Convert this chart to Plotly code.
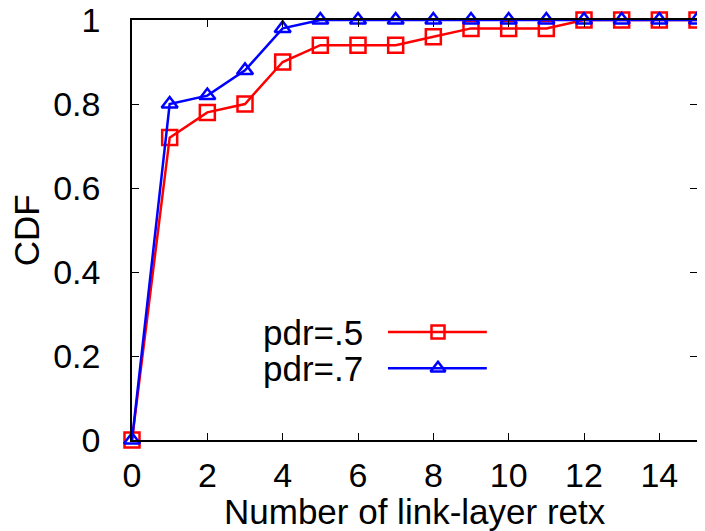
import plotly.graph_objects as go

retx = list(range(0, 16))
cdf_pdr5 = [0, 0.72, 0.78, 0.80, 0.90, 0.94, 0.94, 0.94, 0.96, 0.98, 0.98, 0.98, 1, 1, 1, 1]
cdf_pdr7 = [0, 0.80, 0.82, 0.88, 0.98, 1, 1, 1, 1, 1, 1, 1, 1, 1, 1, 1]
series_names = ["pdr=.5", "pdr=.7"]
x_ticks = [0, 2, 4, 6, 8, 10, 12, 14]
y_ticks = [0, 0.2, 0.4, 0.6, 0.8, 1]
y_tick_labels = ["0", "0.2", "0.4", "0.6", "0.8", "1"]
x_title = "Number of link-layer retx"
y_title = "CDF"

FONT = "Liberation Sans, Arial, Helvetica, sans-serif"
FS = 34
FS_T = 35
RED = "#ff0000"
BLUE = "#0000ff"

fig = go.Figure()
fig.add_trace(go.Scatter(x=retx, y=cdf_pdr5, mode="lines+markers", name=series_names[0],
                         line=dict(color=RED, width=2.5),
                         marker=dict(symbol="square-open", size=15, color=RED, line=dict(width=2.5, color=RED)),
                         showlegend=False, cliponaxis=False))
fig.add_trace(go.Scatter(x=retx, y=cdf_pdr7, mode="lines+markers", name=series_names[1],
                         line=dict(color=BLUE, width=2.5),
                         marker=dict(symbol="triangle-up-open", size=14, color=BLUE, line=dict(width=2.5, color=BLUE)),
                         showlegend=False, cliponaxis=False))

# manual legend (text left, sample right) on an overlay axis in [0,1]
leg_x0, leg_xm, leg_x1 = 0.453, 0.5416, 0.628
leg_rows = [0.257, 0.171]
styles = [(RED, "square-open", 13), (BLUE, "triangle-up-open", 13)]
for (col, sym, sz), yy, nm in zip(styles, leg_rows, series_names):
    fig.add_trace(go.Scatter(x=[leg_x0, leg_x1], y=[yy, yy], mode="lines", xaxis="x2", yaxis="y2",
                             line=dict(color=col, width=2.5), showlegend=False, hoverinfo="skip"))
    fig.add_trace(go.Scatter(x=[leg_xm], y=[yy], mode="markers", xaxis="x2", yaxis="y2",
                             marker=dict(symbol=sym, size=sz, color=col, line=dict(width=2.5, color=col)),
                             showlegend=False, hoverinfo="skip"))
    fig.add_annotation(x=0.412, y=yy, xref="x2", yref="y2", text=nm, showarrow=False,
                       xanchor="right", yanchor="middle", font=dict(family=FONT, size=FS_T, color="black"))

# axis titles as annotations
fig.add_annotation(x=0.501, y=-0.171, xref="paper", yref="paper", text=x_title, showarrow=False,
                   xanchor="center", yanchor="middle", font=dict(family=FONT, size=FS_T, color="black"))
fig.add_annotation(x=-0.187, y=0.5, xref="paper", yref="paper", text=y_title, showarrow=False, textangle=-90,
                   xanchor="center", yanchor="middle", font=dict(family=FONT, size=FS_T, color="black"))

axis_common = dict(showgrid=False, zeroline=False, showline=True, linecolor="black", linewidth=1.5,
                   mirror="ticks", ticks="inside", ticklen=7, tickwidth=1, tickcolor="black",
                   automargin=False, ticklabeloverflow="allow",
                   tickfont=dict(family=FONT, size=FS, color="black"))

# the page body adds an 8px offset; size the figure so the plot lands where the reference has it
fig.update_layout(
    width=697, height=523,
    margin=dict(l=124, r=8, t=12, b=91),
    paper_bgcolor="white", plot_bgcolor="white",
    font=dict(family=FONT, size=FS, color="black"),
    xaxis=dict(range=[0, 15], tickvals=x_ticks, ticktext=[str(v) for v in x_ticks],
               ticklabelstandoff=4, **axis_common),
    yaxis=dict(range=[0, 1], tickvals=y_ticks, ticktext=y_tick_labels,
               ticklabelstandoff=23, **axis_common),
    xaxis2=dict(range=[0, 1], overlaying="x", visible=False, fixedrange=True),
    yaxis2=dict(range=[0, 1], overlaying="y", visible=False, fixedrange=True),
)

fig.write_html("out.html")
